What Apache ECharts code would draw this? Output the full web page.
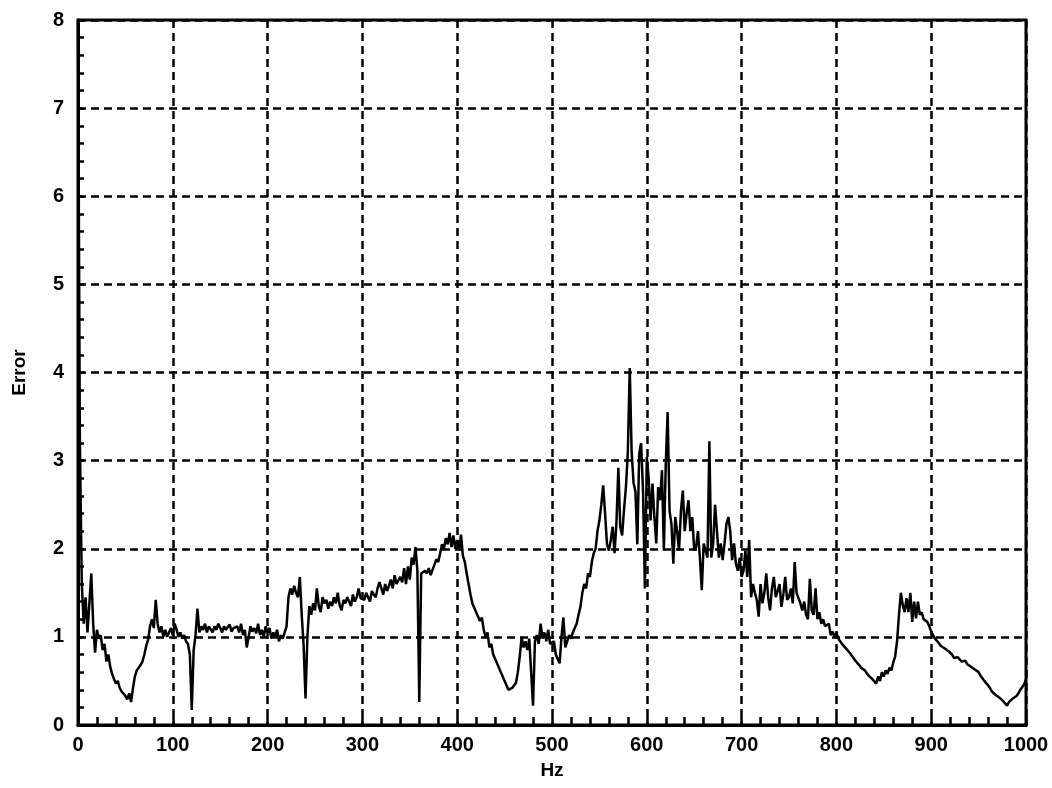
<!DOCTYPE html>
<html>
<head>
<meta charset="utf-8">
<title>Error vs Hz</title>
<script src="https://cdn.jsdelivr.net/npm/echarts@6/dist/echarts.min.js"></script>
<style>
  html, body { margin: 0; padding: 0; background: #fff; }
  #chart { width: 1052px; height: 788px; }
</style>
</head>
<body>
<div id="chart"></div>
<script>
// Frequency grid: one sample every 2 Hz from 0 to 1000 Hz
const freqStart = 0;
const freqStep = 2;

// Error values, one row per 100 Hz band
const error000 = [8.0, 3.2, 1.6, 1.15, 1.45, 1.05, 1.38, 1.72, 1.15, 0.82,
  1.08, 0.98, 1.02, 0.85, 0.92, 0.72, 0.8, 0.66, 0.58, 0.52,
  0.47, 0.5, 0.42, 0.38, 0.4, 0.33, 0.29, 0.36, 0.26, 0.42,
  0.55, 0.62, 0.6, 0.68, 0.72, 0.8, 0.9, 0.97, 1.12, 1.2,
  1.1, 1.42, 1.15, 1.05, 1.12, 1.0, 1.08, 1.0, 1.02, 1.1];
const error100 = [1.02, 1.15, 1.08, 1.0, 1.05, 0.98, 1.02, 0.95, 0.92, 0.8,
  0.17, 0.85, 1.02, 1.32, 1.05, 1.12, 1.08, 1.15, 1.05, 1.12,
  1.1, 1.05, 1.12, 1.08, 1.15, 1.1, 1.05, 1.12, 1.08, 1.1,
  1.14, 1.06, 1.1, 1.08, 1.12, 1.05, 1.15, 1.02, 1.08, 0.88,
  1.0, 1.12, 1.06, 1.1, 1.04, 1.15, 1.02, 1.08, 1.0, 1.12];
const error200 = [1.05, 1.1, 0.98, 1.05, 1.0, 1.08, 0.95, 1.02, 0.98, 1.0,
  1.12, 1.45, 1.55, 1.48, 1.58, 1.5, 1.45, 1.68, 1.25, 0.9,
  0.3, 1.0, 1.35, 1.25, 1.38, 1.3, 1.55, 1.35, 1.28, 1.45,
  1.38, 1.42, 1.32, 1.4, 1.35, 1.45, 1.38, 1.5, 1.36, 1.3,
  1.42, 1.38, 1.45, 1.4, 1.35, 1.48, 1.4, 1.45, 1.55, 1.44];
const error300 = [1.46, 1.42, 1.5, 1.45, 1.4, 1.52, 1.48, 1.45, 1.55, 1.62,
  1.55, 1.48, 1.6, 1.52, 1.58, 1.65, 1.55, 1.7, 1.6, 1.58,
  1.68, 1.62, 1.78, 1.6, 1.8, 1.65, 1.9, 1.82, 2.02, 1.75,
  0.26, 1.72, 1.7, 1.75, 1.72, 1.78, 1.7, 1.76, 1.82, 1.88,
  1.85, 1.95, 2.05, 2.0, 2.12, 2.05, 2.18, 2.02, 2.15, 2.0];
const error400 = [2.1, 1.98, 2.16, 1.92, 1.85, 1.72, 1.6, 1.48, 1.38, 1.4,
  1.28, 1.3, 1.18, 1.22, 1.08, 1.0, 1.05, 0.88, 0.92, 0.8,
  0.78, 0.7, 0.65, 0.6, 0.55, 0.5, 0.45, 0.4, 0.38, 0.42,
  0.4, 0.48, 0.6, 0.78, 1.0, 0.88, 0.95, 0.85, 0.98, 0.6,
  0.22, 0.95, 1.02, 0.92, 1.15, 0.98, 1.05, 0.95, 1.08, 0.92];
const error500 = [0.9, 0.95, 0.8, 0.75, 0.7, 1.0, 1.22, 0.88, 0.95, 1.02,
  0.98, 1.05, 1.1, 1.15, 1.25, 1.34, 1.5, 1.6, 1.55, 1.72,
  1.68, 1.85, 1.95, 2.0, 2.2, 2.32, 2.5, 2.72, 2.4, 2.05,
  1.98, 2.1, 2.25, 1.95, 2.3, 2.92, 2.25, 2.15, 2.45, 2.7,
  3.1, 4.05, 3.1, 2.75, 2.65, 2.05, 3.08, 3.2, 2.66, 1.55];
const error600 = [3.04, 2.8, 2.32, 2.74, 2.36, 2.06, 2.7, 2.55, 2.89, 1.98,
  2.96, 3.55, 2.43, 2.28, 1.83, 2.36, 2.2, 1.98, 2.43, 2.66,
  2.2, 2.4, 2.55, 2.2, 2.36, 1.98, 2.02, 2.2, 1.9, 1.53,
  2.06, 1.98, 1.9, 3.22, 1.9, 2.06, 2.5, 2.2, 1.9, 2.06,
  1.87, 2.06, 2.28, 2.36, 2.2, 1.87, 2.06, 1.83, 1.75, 1.9];
const error700 = [1.68, 1.75, 1.98, 1.68, 2.1, 1.45, 1.6, 1.5, 1.42, 1.23,
  1.6, 1.38, 1.5, 1.72, 1.45, 1.3, 1.55, 1.68, 1.45, 1.52,
  1.6, 1.34, 1.48, 1.68, 1.42, 1.45, 1.55, 1.38, 1.85, 1.5,
  1.44, 1.38, 1.3, 1.4, 1.25, 1.2, 1.66, 1.3, 1.25, 1.55,
  1.2, 1.28, 1.15, 1.2, 1.12, 1.1, 1.15, 1.02, 1.06, 1.0];
const error800 = [1.05, 0.98, 0.95, 0.92, 0.9, 0.87, 0.85, 0.82, 0.8, 0.76,
  0.73, 0.72, 0.68, 0.65, 0.66, 0.62, 0.6, 0.56, 0.58, 0.52,
  0.54, 0.47, 0.55, 0.5, 0.6, 0.55, 0.62, 0.58, 0.65, 0.62,
  0.71, 0.78, 0.95, 1.25, 1.5, 1.36, 1.28, 1.44, 1.28, 1.5,
  1.17, 1.4, 1.21, 1.4, 1.25, 1.28, 1.2, 1.22, 1.17, 1.12];
const error900 = [1.06, 1.02, 0.98, 0.96, 0.93, 0.9, 0.88, 0.87, 0.86, 0.84,
  0.83, 0.8, 0.76, 0.75, 0.77, 0.75, 0.72, 0.71, 0.73, 0.69,
  0.68, 0.66, 0.64, 0.63, 0.61, 0.6, 0.56, 0.53, 0.5, 0.48,
  0.45, 0.42, 0.38, 0.36, 0.34, 0.33, 0.31, 0.3, 0.27, 0.25,
  0.22, 0.26, 0.28, 0.3, 0.32, 0.33, 0.36, 0.4, 0.42, 0.46,
  0.52];

// Axis ticks
const xTicks = [0, 100, 200, 300, 400, 500, 600, 700, 800, 900, 1000];
const yTicks = [0, 1, 2, 3, 4, 5, 6, 7, 8];
const xMinorStep = 20;
const yMinorStep = 0.2;

const errorValues = [].concat(error000, error100, error200, error300, error400,
  error500, error600, error700, error800, error900);
const seriesData = errorValues.map((v, i) => [freqStart + i * freqStep, v]);

const xMin = xTicks[0], xMax = xTicks[xTicks.length - 1];
const yMin = yTicks[0], yMax = yTicks[yTicks.length - 1];

const fontFamily = 'Liberation Sans, Arial, sans-serif';
const tickFont = { color: '#000', fontFamily, fontWeight: 'bold', fontSize: 20 };
const nameFont = { color: '#000', fontFamily, fontWeight: 'bold', fontSize: 19 };
const gridDash = { color: '#000', width: 2.5, type: [8, 5] };
const frameLine = { color: '#000', width: 3 };
const minorTickLine = { color: '#000', width: 2.5 };

const chart = echarts.init(document.getElementById('chart'), null, { renderer: 'canvas' });
chart.setOption({
  animation: false,
  backgroundColor: '#fff',
  grid: {
    left: 78, right: 26, top: 20, bottom: 63,
    show: true, borderColor: '#000', borderWidth: 3,
    containLabel: false
  },
  xAxis: [{
    // labelled axis with the dashed grid and inward minor ticks
    type: 'value', position: 'bottom',
    min: xMin, max: xMax, interval: 100,
    name: 'Hz', nameLocation: 'middle', nameGap: 36,
    nameTextStyle: nameFont,
    axisLine: { show: true, lineStyle: frameLine },
    axisTick: { show: true, inside: true, length: 0 },
    minorTick: { show: true, splitNumber: 100 / xMinorStep, length: 8, lineStyle: minorTickLine },
    axisLabel: Object.assign({ margin: 10, formatter: v => String(v) }, tickFont),
    splitLine: { show: true, lineStyle: gridDash }
  }, {
    // small inward ticks every 20 Hz
    type: 'value', position: 'bottom',
    min: xMin, max: xMax, interval: xMinorStep,
    axisLine: { show: false },
    axisTick: { show: true, inside: true, length: 8, lineStyle: minorTickLine },
    axisLabel: { show: false },
    splitLine: { show: false }
  }],
  yAxis: [{
    type: 'value', position: 'left',
    min: yMin, max: yMax, interval: 1,
    name: 'Error', nameLocation: 'middle', nameGap: 49, nameRotate: 90,
    nameTextStyle: nameFont,
    axisLine: { show: true, lineStyle: frameLine },
    axisTick: { show: true, inside: true, length: 0 },
    minorTick: { show: true, splitNumber: Math.round(1 / yMinorStep), length: 6, lineStyle: minorTickLine },
    axisLabel: Object.assign({ margin: 14 }, tickFont),
    splitLine: { show: true, lineStyle: gridDash }
  }, {
    // small inward ticks every 0.2
    type: 'value', position: 'left',
    min: yMin, max: yMax, interval: yMinorStep,
    axisLine: { show: false },
    axisTick: { show: true, inside: true, length: 6, lineStyle: minorTickLine },
    axisLabel: { show: false },
    splitLine: { show: false }
  }],
  series: [{
    type: 'line',
    xAxisIndex: 0, yAxisIndex: 0,
    data: seriesData,
    showSymbol: false,
    lineStyle: { color: '#000', width: 2.5 },
    z: 3
  }]
});
</script>
</body>
</html>
